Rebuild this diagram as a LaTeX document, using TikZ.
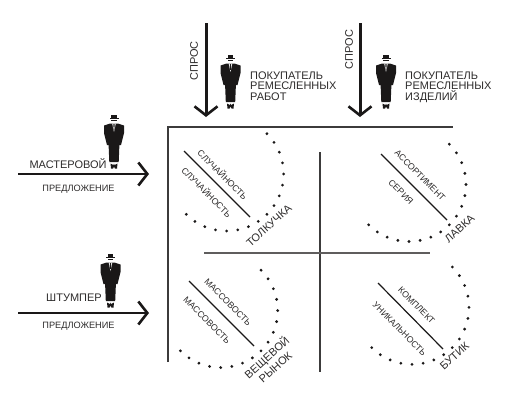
\documentclass[tikz,border=0pt]{standalone}
\usepackage{fontspec}
\setmainfont{Liberation Sans}
\usepackage{xcolor}
\usetikzlibrary{arrows.meta,calc}
\definecolor{inkk}{RGB}{26,24,24}
\definecolor{textk}{RGB}{45,43,43}
\tikzset{
  bigarrow/.style={-{Straight Barb[length=9pt,width=23pt,line width=2.6pt]},color=inkk},
  frameline/.style={line width=1.1pt,color=inkk!85},
  diagline/.style={line width=1.2pt,color=inkk},
  lbl/.style={font=\fontsize{11}{10.4}\selectfont,color=textk,inner sep=0pt,align=left},
  smalllbl/.style={font=\fontsize{8.8}{9}\selectfont,color=textk,inner sep=0pt},
  offerlbl/.style={font=\fontsize{9.2}{9}\selectfont,color=textk,inner sep=0pt},
  dotmark/.style={circle,fill=inkk,inner sep=0pt,minimum size=3.1pt},
  pics/man/.style={code={
    % hat, face, jacket, feet
    \fill[inkk] (-4.5,2.6) rectangle (4.5,4);
    \fill[inkk] (-2.8,0) rectangle (2.8,3);
    \fill[inkk] (-2.8,5) rectangle (2.8,6.2);
    \fill[inkk] (-4,8.5) -- (4,8.5) -- (10,10.5) -- (10,18) -- (7,30) -- (5.4,30) -- (4.7,47)
      -- (-4.7,47) -- (-5.4,30) -- (-7,30) -- (-10,18) -- (-10,10.5) -- cycle;
    \fill[white] (-1.8,8.5) -- (1.8,8.5) -- (0,17) -- cycle;
    \fill[inkk] (-.6,9) -- (.6,9) -- (.4,15) -- (-.4,15) -- cycle;
    \fill[inkk] (-3.5,48.5) -- (-.5,50) -- (0,48.5) -- (.5,50) -- (3.5,48.5) -- (3,53.5)
      -- (1,53.5) -- (0,51.5) -- (-1,53.5) -- (-3,53.5) -- cycle;
  }},
}
\begin{document}
\begin{tikzpicture}[x=1pt,y=-1pt]
  \useasboundingbox (0,0) rectangle (514,400);
  % frame
  \coordinate (topL) at (168,127);
  \coordinate (topR) at (453,127);
  \coordinate (botL) at (168,362);
  \coordinate (midT) at (320,152);
  \coordinate (midB) at (320,372);
  \coordinate (midL) at (204,253);
  \coordinate (midR) at (430,253);
  \draw[frameline] (botL) -- (topL) -- (topR);
  \draw[frameline] (midT) -- (midB);
  \draw[frameline,color=inkk!70] (midL) -- (midR);
  % demand and supply
  \coordinate (dem1s) at (206,23);
  \coordinate (dem1e) at (206,117);
  \coordinate (dem2s) at (360,23);
  \coordinate (dem2e) at (360,117);
  \coordinate (sup1s) at (18,174);
  \coordinate (sup1e) at (149,174);
  \coordinate (sup2s) at (18,313);
  \coordinate (sup2e) at (149,313);
  \draw[bigarrow,line width=3pt] (dem1s) -- (dem1e);
  \draw[bigarrow,line width=3pt] (dem2s) -- (dem2e);
  \draw[bigarrow,line width=1.4pt] (sup1s) -- (sup1e);
  \draw[bigarrow,line width=1.8pt] (sup2s) -- (sup2e);
  \node[lbl,rotate=90] (dem1txt) at (194,61) {СПРОС};
  \node[lbl,rotate=90] (dem2txt) at (349,49.5) {СПРОС};
  \node[lbl,anchor=north west] (buyer1) at (250,71.5) {ПОКУПАТЕЛЬ\\РЕМЕСЛЕННЫХ\\РАБОТ};
  \node[lbl,anchor=north west] (buyer2) at (405,71.5) {ПОКУПАТЕЛЬ\\РЕМЕСЛЕННЫХ\\ИЗДЕЛИЙ};
  \node[lbl] (master) at (68,164) {МАСТЕРОВОЙ};
  \node[lbl] (shtump) at (74,298) {ШТУМПЕР};
  \node[offerlbl] (offer1) at (78.5,189.5) {ПРЕДЛОЖЕНИЕ};
  \node[offerlbl] (offer2) at (78.5,326) {ПРЕДЛОЖЕНИЕ};
  % people
  \pic at (230.5,55) {man};
  \pic at (386,55) {man};
  \pic at (114,115) {man};
  \pic at (110.5,254) {man};
  % quadrants
  \coordinate (d1s) at (184,151); \coordinate (d1e) at (250,217);
  \coordinate (d2s) at (381,154); \coordinate (d2e) at (447,220);
  \coordinate (d3s) at (189,281); \coordinate (d3e) at (254,346);
  \coordinate (d4s) at (378,283); \coordinate (d4e) at (443,349);
  \draw[diagline] (d1s) -- (d1e);
  \draw[diagline] (d2s) -- (d2e);
  \draw[diagline] (d3s) -- (d3e);
  \draw[diagline] (d4s) -- (d4e);
  \foreach \cx/\cy in {226.6/174,409/184.5,220.7/310.5,412/307.3}
    \foreach \a in {-45,-33.75,...,135}
      \node[dotmark] at ($(\cx,\cy)+(\a:57)$) {};
  \node[smalllbl,rotate=-45] (q1up) at (223,174.5) {СЛУЧАЙНОСТЬ};
  \node[smalllbl,rotate=-45] (q1lo) at (207,192) {СЛУЧАЙНОСТЬ};
  \node[smalllbl,rotate=-45] (q2up) at (420,175.5) {АССОРТИМЕНТ};
  \node[smalllbl,rotate=-45] (q2lo) at (401,192) {СЕРИЯ};
  \node[smalllbl,rotate=-45] (q3up) at (228,302.5) {МАССОВОСТЬ};
  \node[smalllbl,rotate=-45] (q3lo) at (207,320.5) {МАССОВОСТЬ};
  \node[smalllbl,rotate=-45] (q4up) at (416.5,305.5) {КОМПЛЕКТ};
  \node[smalllbl,rotate=-45] (q4lo) at (399.5,329) {УНИКАЛЬНОСТЬ};
  \node[lbl,rotate=42] (q1name) at (269,225.5) {ТОЛКУЧКА};
  \node[lbl,rotate=42] (q2name) at (459.5,228.5) {ЛАВКА};
  \node[lbl,rotate=42] (q3name) at (267,357.5) {ВЕЩЕВОЙ};
  \node[lbl,rotate=42] (q3more) at (275.5,367.5) {РЫНОК};
  \node[lbl,rotate=42] (q4name) at (454.5,356) {БУТИК};
\end{tikzpicture}
\end{document}
